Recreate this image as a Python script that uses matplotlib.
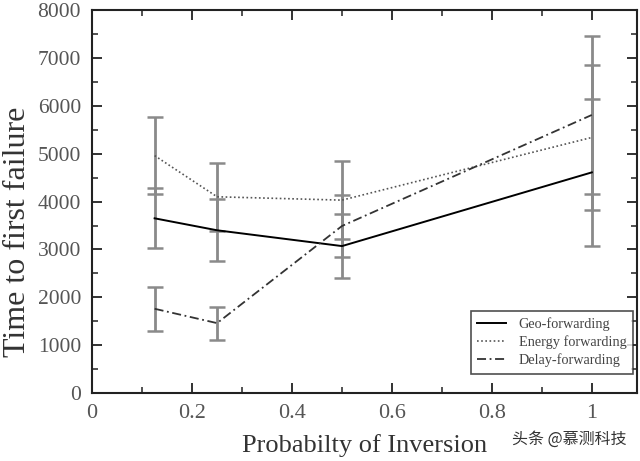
import matplotlib
matplotlib.use("Agg")
import matplotlib.pyplot as plt
from matplotlib.ticker import MultipleLocator

x = [0.125, 0.25, 0.5, 1.0]
geo = [3650, 3400, 3070, 4610]
geo_err = [630, 650, 660, 1540]
energy = [4960, 4100, 4030, 5340]
energy_err = [810, 710, 814, 1515]
delay = [1760, 1460, 3490, 5810]
delay_err = [465, 345, 640, 1660]
labels = ["Geo-forwarding", "Energy forwarding", "Delay-forwarding"]

plt.rcParams['font.family'] = ['Liberation Serif', 'DejaVu Serif']

fig = plt.figure(figsize=(6.4, 4.61), dpi=100)
ax = fig.add_axes([0.144, 0.1475, 0.851, 0.8305])

ecol = '#8a8a8a'
for y, e in [(geo, geo_err), (energy, energy_err), (delay, delay_err)]:
    ax.errorbar(x, y, yerr=e, fmt='none', ecolor=ecol, elinewidth=2.0,
                capsize=6, capthick=1.8, zorder=2)

ax.plot(x, geo, color='black', lw=1.4, ls='-', label=labels[0], zorder=3)
ax.plot(x, energy, color='#555555', lw=1.2, ls=(0, (1, 1.5)), label=labels[1], zorder=3)
ax.plot(x, delay, color='#333333', lw=1.3, ls=(0, (5, 2, 1, 2)), label=labels[2], zorder=3)

ax.set_xlim(0, 1.09)
ax.set_ylim(0, 8000)
ax.xaxis.set_major_locator(MultipleLocator(0.2))
ax.xaxis.set_minor_locator(MultipleLocator(0.1))
ax.yaxis.set_major_locator(MultipleLocator(1000))
ax.yaxis.set_minor_locator(MultipleLocator(500))
ax.set_xticks([0, 0.2, 0.4, 0.6, 0.8, 1.0])
ax.set_xticklabels(['0', '0.2', '0.4', '0.6', '0.8', '1'])
ax.tick_params(which='both', direction='in', top=True, right=True,
               colors='#222222', labelcolor='#555555', labelsize=15.5, pad=8)
ax.tick_params(axis='x', labelsize=16)
ax.tick_params(which='major', length=7, width=1.3)
ax.tick_params(which='minor', length=4, width=1.1)
for s in ax.spines.values():
    s.set_linewidth(1.5)
    s.set_color('#222222')

ax.set_xlabel('Probabilty of Inversion', fontsize=19, color='#333333')
ax.set_ylabel('Time to first failure', fontsize=23, color='#333333')
ax.xaxis.set_label_coords(0.5, -0.108)
ax.yaxis.set_label_coords(-0.11, 0.42)

leg = ax.legend(loc='lower right', fontsize=10.3, frameon=True, fancybox=False,
                edgecolor='#222222', handlelength=2.0, handletextpad=0.9,
                borderpad=0.45, labelspacing=0.3, borderaxespad=0,
                bbox_to_anchor=(0.993, 0.05))
leg.get_frame().set_linewidth(1.2)
for t in leg.get_texts():
    t.set_color('#444444')

fig.text(0.8, 0.038, '头条 @慕测科技', fontsize=11.5, color='#333333',
         family=['Noto Sans CJK SC', 'DejaVu Sans'])

fig.savefig('out.png', dpi=100)
